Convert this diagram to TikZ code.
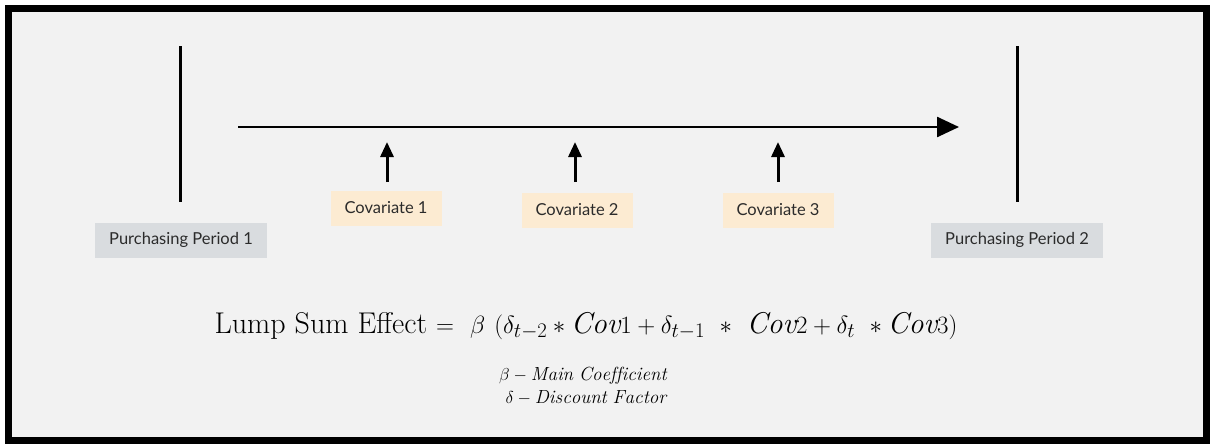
\documentclass[tikz,border=0pt]{standalone}
\usepackage{fontspec}
\usetikzlibrary{arrows.meta}
\newfontfamily\lblfont{Lato}
\definecolor{bgc}{HTML}{F2F2F2}
\definecolor{pbox}{HTML}{D9DCDF}
\definecolor{cbox}{HTML}{FCEBD2}
\definecolor{txtc}{HTML}{2B2B2B}
\tikzset{
  periodbox/.style={fill=pbox, text=txtc, minimum width=172pt, minimum height=35pt, inner sep=0pt, font=\lblfont\fontsize{16.5}{19}\selectfont},
  covbox/.style={fill=cbox, text=txtc, minimum width=111pt, minimum height=35pt, inner sep=0pt, font=\lblfont\fontsize{16.5}{19}\selectfont},
  vline/.style={line width=3pt, black},
  mainarrow/.style={line width=2.5pt, -{Triangle[length=22pt,width=20pt]}},
  uparrow/.style={line width=3pt, -{Triangle[length=15pt,width=13pt]}},
  legendtext/.style={font=\fontsize{19}{22}\selectfont, inner sep=0pt, anchor=base},
}
\begin{document}
\begin{tikzpicture}[x=1pt,y=-1pt]
\useasboundingbox (0,0) rectangle (1212,445);
\fill[white] (0,0) rectangle (1212,445);
\draw[line width=7pt, fill=bgc] (8.5,8.5) rectangle (1206,440.5);
% vertical period lines
\coordinate (l1t) at (180,46);
\coordinate (l1b) at (180,202);
\coordinate (l2t) at (1017,46);
\coordinate (l2b) at (1017,202);
\draw[vline] (l1t) -- (l1b);
\draw[vline] (l2t) -- (l2b);
% main timeline
\coordinate (ts) at (238,127);
\coordinate (te) at (959,127);
\draw[mainarrow] (ts) -- (te);
% boxes
\node[periodbox] (p1) at (181,240) {Purchasing Period 1};
\node[periodbox] (p2) at (1017,240) {Purchasing Period 2};
\node[covbox] (c1) at (386,208) {Covariate 1};
\node[covbox] (c2) at (577,210) {Covariate 2};
\node[covbox] (c3) at (778,210) {Covariate 3};
% up arrows
\coordinate (a1b) at (387,182);
\coordinate (a1t) at (387,142);
\coordinate (a2b) at (575,182);
\coordinate (a2t) at (575,142);
\coordinate (a3b) at (778,182);
\coordinate (a3t) at (778,142);
\draw[uparrow] (a1b) -- (a1t);
\draw[uparrow] (a2b) -- (a2t);
\draw[uparrow] (a3b) -- (a3t);
% formula
\node[font=\fontsize{30}{34}\selectfont, inner sep=0pt, anchor=base] (eq) at (586,333)
  {Lump Sum Effect $=\ \beta\ (\delta_{t-2} \ast \mathit{Cov}1 + \delta_{t-1}\ \ast\ \mathit{Cov}2 + \delta_{t}\ \ast \mathit{Cov}3)$};
\node[legendtext] (leg1) at (583,380) {$\beta - \mathit{Main\ Coefficient}$};
\node[legendtext] (leg2) at (586,403) {$\delta - \mathit{Discount\ Factor}$};
\end{tikzpicture}
\end{document}
